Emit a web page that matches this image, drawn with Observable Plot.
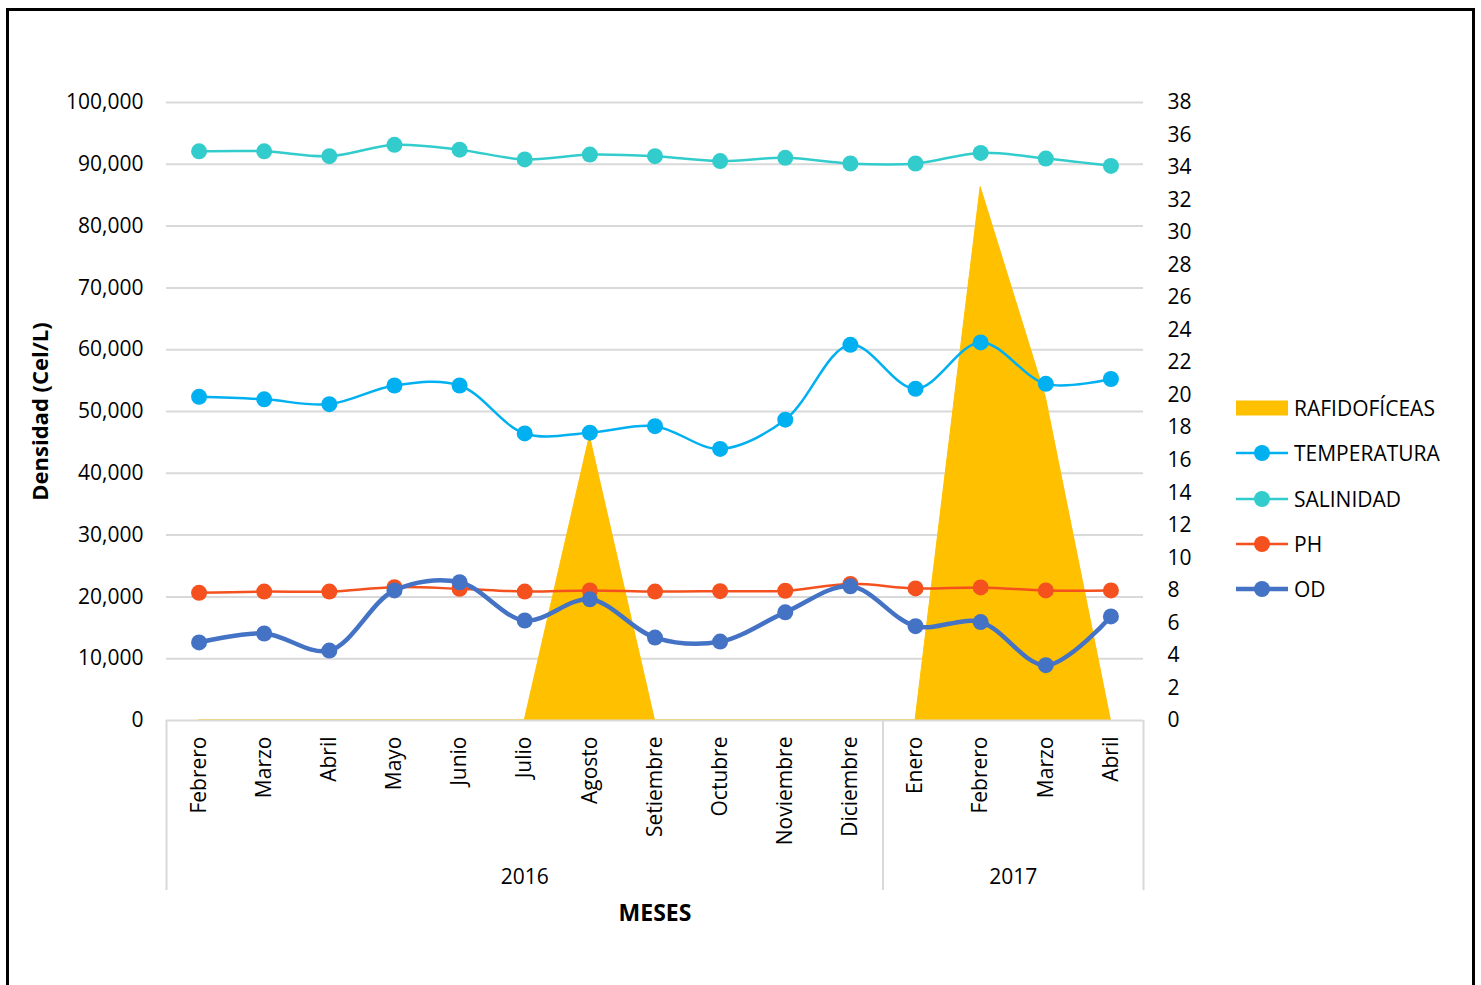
<!DOCTYPE html>
<html>
<head>
<meta charset="utf-8">
<script src="https://cdn.jsdelivr.net/npm/d3@7"></script>
<script src="https://cdn.jsdelivr.net/npm/@observablehq/plot@0.6"></script>
<style>
  body { margin: 0; background: #fff; font-family: "Open Sans", sans-serif; }
  #wrap { position: relative; width: 1481px; height: 985px; overflow: hidden; background: #fff; }
  #frame { position: absolute; left: 6px; top: 8px; width: 1469px; height: 1010px; border: 3px solid #000; box-sizing: border-box; }
  #chart { position: absolute; left: 0; top: 0; }
  .item { position: absolute; left: 1236px; height: 24px; display: flex; align-items: center; font-size: 21px; color: #000; white-space: nowrap; }
  .item svg { margin-right: 6px; }
</style>
</head>
<body>
<div id="wrap">
  <div id="frame"></div>
  <div id="chart"></div>
  <div id="legend"></div>
</div>
<script>
// ---- data ----
const months = ["Febrero","Marzo","Abril","Mayo","Junio","Julio","Agosto","Setiembre","Octubre","Noviembre","Diciembre","Enero","Febrero","Marzo","Abril"];
const years = ["2016","2016","2016","2016","2016","2016","2016","2016","2016","2016","2016","2017","2017","2017","2017"];
const rafidoficeas = [0,0,0,0,0,0,46000,0,0,0,0,0,86300,52300,0];
const temperatura = [19.9,19.75,19.45,20.6,20.6,17.65,17.7,18.1,16.7,18.5,23.1,20.4,23.25,20.7,21.0];
const salinidad = [35.0,35.0,34.7,35.4,35.1,34.5,34.8,34.7,34.4,34.6,34.25,34.25,34.9,34.55,34.1];
const ph = [7.85,7.93,7.93,8.2,8.1,7.93,8.0,7.93,7.95,7.98,8.4,8.12,8.18,8.0,8.0];
const od = [4.8,5.35,4.3,8.0,8.5,6.15,7.45,5.1,4.85,6.65,8.25,5.8,6.05,3.4,6.4];
const leftTicks = [0,10000,20000,30000,40000,50000,60000,70000,80000,90000,100000];
const rightTicks = [0,2,4,6,8,10,12,14,16,18,20,22,24,26,28,30,32,34,36,38];
const leftMax = 100000, rightMax = 38;

// ---- build ----
const k = leftMax / rightMax; // secondary axis mapping
const rows = months.map((m, i) => ({
  i, month: m, year: years[i], raf: rafidoficeas[i],
  temp: temperatura[i] * k, sal: salinidad[i] * k, ph: ph[i] * k, od: od[i] * k
}));
const series = [
  {key: "temp", name: "TEMPERATURA", color: "#00B0F0", width: 2.5},
  {key: "sal", name: "SALINIDAD", color: "#33CCCC", width: 2.5},
  {key: "ph", name: "PH", color: "#F4511E", width: 2.5},
  {key: "od", name: "OD", color: "#4472C4", width: 4.5}
];
const groups = d3.groups(rows, d => d.year).map(([y, rs]) => ({year: y, x1: rs[0].i - 0.5, x2: rs[rs.length - 1].i + 0.5}));
const bounds = [groups[0].x1, ...groups.map(g => g.x2)];

const chart = Plot.plot({
  width: 1481, height: 985,
  marginLeft: 166, marginRight: 338, marginTop: 102, marginBottom: 265,
  x: {domain: [-0.5, months.length - 0.5], axis: null},
  y: {domain: [0, leftMax], axis: null},
  style: {fontFamily: "'Open Sans', sans-serif", fontSize: "21px", color: "#000", background: "transparent", overflow: "visible"},
  marks: [
    Plot.ruleY(leftTicks.filter(v => v > 0), {stroke: "#d9d9d9", strokeWidth: 2}),
    Plot.areaY(rows, {x: "i", y: "raf", fill: "#FFC000", stroke: "#FFC000", strokeWidth: 1}),
    Plot.ruleY([0], {stroke: "#d9d9d9", strokeWidth: 2}),
    Plot.ruleX(bounds, {y1: 0, y2: 0, insetBottom: -170, stroke: "#d9d9d9", strokeWidth: 2}),
    Plot.axisY(leftTicks, {anchor: "left", tickSize: 0, tickPadding: 23, tickFormat: d3.format(","), fontSize: 21, label: null}),
    Plot.axisY(rightTicks.map(v => v * k), {anchor: "right", tickSize: 0, tickPadding: 24, tickFormat: v => String(Math.round(v / k)), fontSize: 21, label: null}),
    ...series.flatMap(s => [
      Plot.line(rows, {x: "i", y: s.key, stroke: s.color, strokeWidth: s.width, curve: "catmull-rom"}),
      Plot.dot(rows, {x: "i", y: s.key, r: 8, fill: s.color})
    ]),
    Plot.text(rows, {x: "i", y: 0, text: "month", rotate: -90, textAnchor: "end", lineAnchor: "middle", dy: 16, fontSize: 21}),
    Plot.text(groups, {x: d => (d.x1 + d.x2) / 2, y: 0, text: "year", dy: 157, fontSize: 21}),
    Plot.text(["MESES"], {frameAnchor: "bottom", textAnchor: "middle", lineAnchor: "middle", dy: 193, fontWeight: "bold", fontSize: 23}),
    Plot.text(["Densidad (Cel/L)"], {frameAnchor: "left", textAnchor: "middle", lineAnchor: "middle", dx: -126, rotate: -90, fontWeight: "bold", fontSize: 22})
  ]
});
document.getElementById("chart").appendChild(chart);

// ---- legend ----
const legend = document.getElementById("legend");
const legendItems = [{name: "RAFIDOFÍCEAS", color: "#FFC000", area: true}, ...series];
legendItems.forEach((s, j) => {
  const cy = 408 + j * 45.3;
  const div = document.createElement("div");
  div.className = "item";
  div.style.top = (cy - 12) + "px";
  const sw = s.area
    ? `<svg width="52" height="24"><rect x="0" y="4.5" width="52" height="15" fill="${s.color}"/></svg>`
    : `<svg width="52" height="24"><line x1="0" x2="52" y1="12" y2="12" stroke="${s.color}" stroke-width="${s.width}"/><circle cx="26" cy="12" r="8" fill="${s.color}"/></svg>`;
  div.innerHTML = sw + `<span>${s.name}</span>`;
  legend.appendChild(div);
});
</script>
</body>
</html>
